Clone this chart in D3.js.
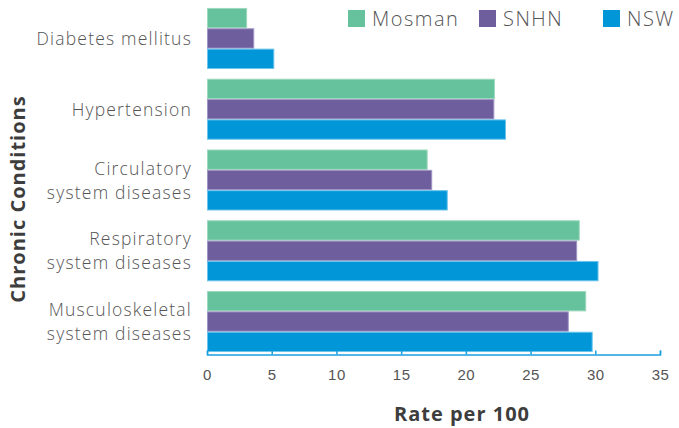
<!DOCTYPE html>
<html>
<head>
<meta charset="utf-8">
<script src="https://cdn.jsdelivr.net/npm/d3@7"></script>
<style>
  body { margin: 0; background: #fff; }
  svg { font-family: "Open Sans", Lato, sans-serif; }
  .cat { fill: #555; font-size: 17.5px; font-weight: 300; letter-spacing: 1.2px; }
  .tick text { fill: #555; font-size: 15px; font-weight: 300; letter-spacing: 0.5px; }
  .title { fill: #3d3d3d; font-size: 20px; font-weight: 700; letter-spacing: 1px; }
  .legend text { fill: #555; font-size: 20px; font-weight: 300; letter-spacing: 1.5px; }
</style>
</head>
<body>
<svg id="chart" width="679" height="428"></svg>
<script>
"use strict";

const categories = [
  "Diabetes mellitus",
  "Hypertension",
  "Circulatory system diseases",
  "Respiratory system diseases",
  "Musculoskeletal system diseases"
];
const categoryLines = [
  ["Diabetes mellitus"],
  ["Hypertension"],
  ["Circulatory", "system diseases"],
  ["Respiratory", "system diseases"],
  ["Musculoskeletal", "system diseases"]
];
const seriesNames = ["Mosman", "SNHN", "NSW"];
const mosman = [3.1, 22.25, 17.05, 28.8, 29.3];
const snhn = [3.65, 22.2, 17.4, 28.6, 27.95];
const nsw = [5.2, 23.1, 18.6, 30.25, 29.8];
const xTicks = [0, 5, 10, 15, 20, 25, 30, 35];

const colors = ["#66c29c", "#6e5e9e", "#0096d8"];
const edges = ["#9ed8be", "#a095c4", "#6cc4ec"];

const svg = d3.select("#chart");

const x = d3.scaleLinear().domain([0, 35]).range([207, 660]);
const y = d3.scaleBand().domain(categories).range([3, 357])
            .paddingInner(0.138).paddingOuter(0.07);
const ySub = d3.scaleBand().domain(seriesNames).range([0, y.bandwidth()]);

const seriesValues = [mosman, snhn, nsw];

// Bars
seriesNames.forEach((name, si) => {
  svg.append("g")
     .selectAll("rect")
     .data(categories.map((c, i) => ({cat: c, v: seriesValues[si][i]})))
     .enter()
     .append("rect")
     .attr("x", x(0) + 0.5)
     .attr("y", d => y(d.cat) + ySub(name) + 0.5)
     .attr("width", d => x(d.v) - x(0) - 1)
     .attr("height", ySub.bandwidth() - 1)
     .attr("fill", colors[si])
     .attr("stroke", edges[si])
     .attr("stroke-width", 1);
});

// Category labels
categories.forEach((c, i) => {
  const lines = categoryLines[i];
  const cy = y(c) + y.bandwidth() / 2;
  const lh = 24;
  const t = svg.append("text")
               .attr("class", "cat")
               .attr("text-anchor", "end");
  lines.forEach((l, li) => {
    t.append("tspan")
     .attr("x", 192)
     .attr("y", cy + (li - (lines.length - 1) / 2) * lh)
     .attr("dy", "0.38em")
     .text(l);
  });
});

// X axis
const axisY = 354.5;
const xAxis = svg.append("g")
  .attr("transform", `translate(0,${axisY})`)
  .call(d3.axisBottom(x).tickValues(xTicks).tickSize(-4).tickSizeOuter(-4).tickPadding(15));
xAxis.select(".domain").attr("stroke", "#1aa0e0").attr("stroke-width", 1.5);
xAxis.selectAll(".tick line").attr("stroke", "#1aa0e0").attr("stroke-width", 1.5);
xAxis.selectAll(".tick text").attr("font-family", null).attr("font-size", null);

// Axis titles
svg.append("text")
   .attr("class", "title")
   .attr("x", 462)
   .attr("y", 421)
   .attr("text-anchor", "middle")
   .text("Rate per 100");

svg.append("text")
   .attr("class", "title")
   .attr("transform", "translate(25,199) rotate(-90)")
   .attr("text-anchor", "middle")
   .text("Chronic Conditions");

// Legend
const legendX = [348, 479, 603];
const legend = svg.append("g").attr("class", "legend");
seriesNames.forEach((name, si) => {
  legend.append("rect")
        .attr("x", legendX[si])
        .attr("y", 10)
        .attr("width", 17)
        .attr("height", 17)
        .attr("fill", colors[si]);
  legend.append("text")
        .attr("x", legendX[si] + 24)
        .attr("y", 26)
        .text(name);
});
</script>
</body>
</html>
